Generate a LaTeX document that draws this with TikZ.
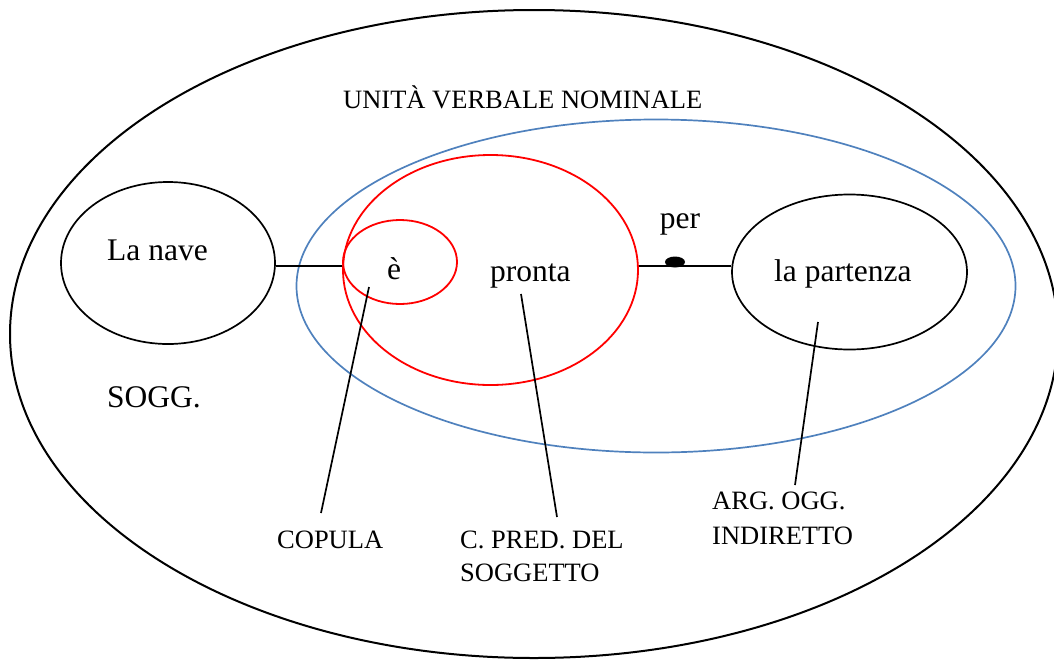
\documentclass[tikz,border=0pt]{standalone}
\usepackage{fontspec}
\setmainfont{Liberation Serif}
\usetikzlibrary{shapes.geometric}
\definecolor{blueell}{RGB}{79,129,189}
\definecolor{redell}{RGB}{255,0,0}
\begin{document}
\begin{tikzpicture}[x=1pt,y=-1pt,
  big/.style={inner sep=0pt,font=\fontsize{31.5}{35}\selectfont},
  small/.style={inner sep=0pt,font=\fontsize{26.5}{30}\selectfont},
  blk/.style={draw=black,line width=1.7pt},
  redl/.style={draw=redell,line width=1.8pt},
  bluel/.style={draw=blueell,line width=1.7pt},
  conn/.style={draw=black,line width=1.7pt}]
\useasboundingbox (0,0) rectangle (1054,659);
% outer ellipse
\draw[line width=2pt] (534,334) ellipse [x radius=524, y radius=324];
% blue ellipse
\node[bluel,ellipse,minimum width=719pt,minimum height=333pt,inner sep=0pt] (blue) at (656,286) {};
% big red
\node[redl,ellipse,minimum width=295pt,minimum height=230pt,inner sep=0pt] (red) at (490.5,270) {};
% small red
\node[redl,ellipse,minimum width=114pt,minimum height=84pt,inner sep=0pt] (e) at (400,262) {};
% la nave
\node[blk,ellipse,minimum width=214pt,minimum height=162pt,inner sep=0pt] (nave) at (168,263) {};
% la partenza
\node[blk,ellipse,minimum width=235pt,minimum height=155pt,inner sep=0pt] (part) at (849.5,272) {};
% texts
\node[big,anchor=base west] (tnave) at (107,260) {La nave};
\node[big,anchor=base west] (sogg) at (107,407) {SOGG.};
\node[big,anchor=base] (te) at (394,279) {è};
\node[big,anchor=base west] (pronta) at (490,281) {pronta};
\node[big,anchor=base west] (tpart) at (774,281) {la partenza};
\node[big,anchor=base] (per) at (680,228) {per};
\node[small,anchor=base west] (unita) at (343,108) {UNITÀ VERBALE NOMINALE};
\node[small,anchor=base west] (copula) at (277,548) {COPULA};
\node[small,anchor=base west] (cpred1) at (460,548) {C. PRED. DEL};
\node[small,anchor=base west] (cpred2) at (460,581) {SOGGETTO};
\node[small,anchor=base west] (arg1) at (712,509) {ARG. OGG.};
\node[small,anchor=base west] (arg2) at (712,544) {INDIRETTO};
% connectors
\coordinate (c1) at (369,287);
\coordinate (c1e) at (321,513);
\coordinate (c2) at (521,294);
\coordinate (c2e) at (557,517);
\coordinate (c3) at (818,322);
\coordinate (c3e) at (795,485);
\draw[conn] (nave.east |- 0,266) -- (e.west |- 0,266);
\draw[conn] (red.east |- 0,266) -- (part.west |- 0,266);
\node[fill=black,ellipse,minimum width=20pt,minimum height=11pt,inner sep=0pt] (dot) at (675,262) {};
\draw[conn] (c1) -- (c1e);
\draw[conn] (c2) -- (c2e);
\draw[conn] (c3) -- (c3e);
\end{tikzpicture}
\end{document}
